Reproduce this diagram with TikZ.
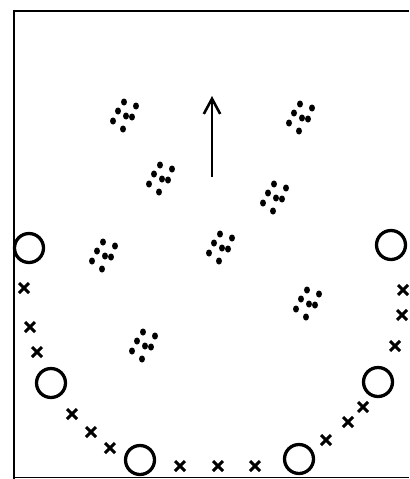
\documentclass[tikz,border=0pt]{standalone}
\usetikzlibrary{arrows.meta}

\begin{document}
\begin{tikzpicture}[x=0.03cm,y=-0.03cm,
  frame/.style={line width=2.4pt},
  ring/.style={line width=2.8pt},
  cross/.style={line width=2.5pt},
  spot/.style={fill=black},
  up/.style={line width=2.4pt,-{Straight Barb[length=13pt,width=14pt,line width=2.2pt]}}]
\useasboundingbox (0,0) rectangle (409,479);
% ---------- frame (open on the right) ----------
\draw[frame] (409,11) -- (14,11) -- (14,479);
\draw[line width=1.2pt] (14,477.5) -- (409,477.5);
% ---------- arrow ----------
\coordinate (tail) at (212,177);
\coordinate (head) at (212,96);
\draw[up] (tail) -- (head);
% ---------- clusters of spots ----------
\foreach \cx/\cy in {124/115,300/117,160/178,274/197,103/255,220/247,307/303,143/345}{
  \foreach \dx/\dy in {0/-13,12/-9,-6/-4,2/1,8/2,-11/6,-1/14}{
    \fill[spot] ({\cx+\dx},{\cy+\dy}) ellipse [x radius=3.0, y radius=3.5];}}
% ---------- rings ----------
\foreach \x/\y in {29/248,391/245,51/383,378/382,140/460,299/459}{
  \draw[ring] (\x,\y) circle (14.5);}
% ---------- crosses ----------
\foreach \x/\y in {24/288,30/327,37/352,72/414,91/432,110/448,
                   180/466,218/466,255/466,326/440,348/422,363/407,
                   403/290,402/315,395/346}{
  \draw[cross] ({\x-5},{\y-5}) -- ({\x+5},{\y+5});
  \draw[cross] ({\x-5},{\y+5}) -- ({\x+5},{\y-5});}
\end{tikzpicture}
\end{document}
